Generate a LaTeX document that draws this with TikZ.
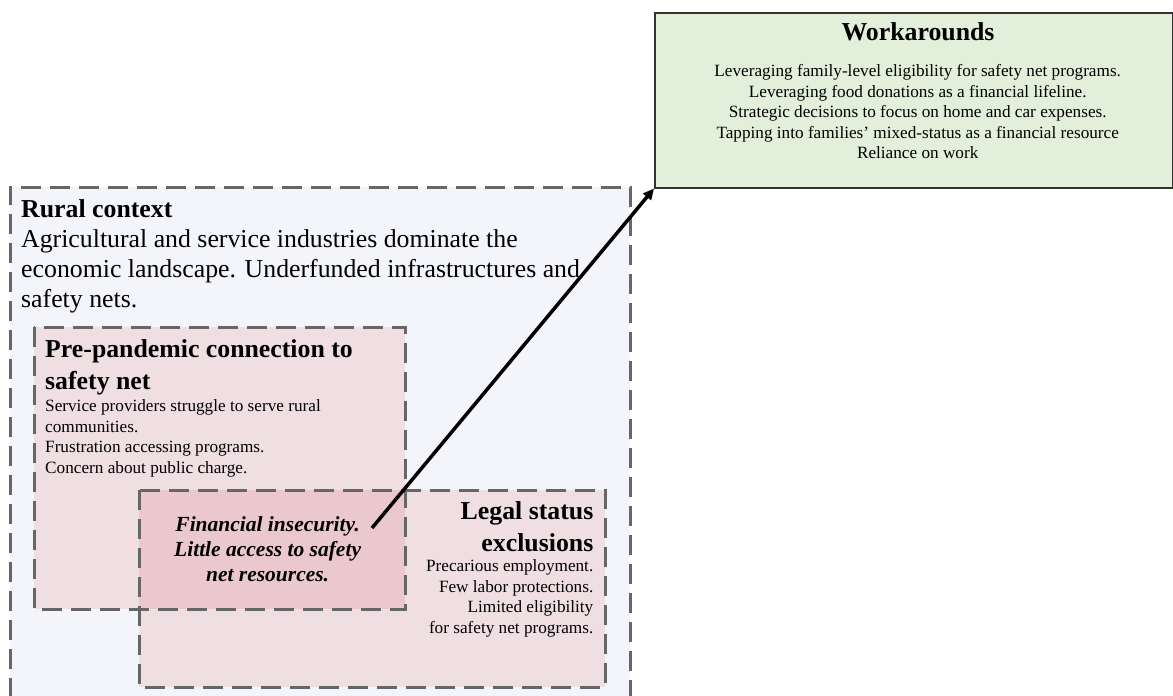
\documentclass[tikz,border=0pt]{standalone}
\usepackage{fontspec}
\setmainfont{Liberation Serif}
\usetikzlibrary{positioning,arrows.meta}

\definecolor{ruralfill}{HTML}{F4F5FA}
\definecolor{pinkfill}{HTML}{EFDEE2}
\definecolor{overlapfill}{HTML}{EBC8CE}
\definecolor{greenfill}{HTML}{E2EFDA}
\definecolor{dashgray}{HTML}{666666}
\definecolor{solidgray}{HTML}{333333}

\begin{document}
\begin{tikzpicture}[x=1pt,y=-1pt,
  dashbox/.style={draw=dashgray,line width=3pt,dash pattern=on 20pt off 9pt,
    anchor=north west,inner sep=0pt,outer sep=0pt},
  bigtext/.style={inner sep=0pt,font=\fontsize{25.8}{30}\selectfont},
  smalltext/.style={inner sep=0pt,font=\fontsize{17.2}{20.5}\selectfont},
  titletext/.style={inner sep=0pt,font=\fontsize{25.8}{31.5}\selectfont\bfseries}]

\useasboundingbox (0,0) rectangle (1173,696);
\clip (0,0) rectangle (1173,696);

% boxes
\node[dashbox,fill=ruralfill,minimum width=620pt,minimum height=560pt] (rural) at (10,187) {};
\node[inner sep=0pt,outer sep=0pt,anchor=north west,fill=pinkfill,minimum width=371pt,minimum height=282pt] (prepan) at (34,327) {};
\node[inner sep=0pt,outer sep=0pt,anchor=north west,fill=pinkfill,minimum width=466pt,minimum height=197pt] (legal) at (139,490) {};
\fill[overlapfill] (legal.north west) rectangle (prepan.south east);
\draw[dashbox] (prepan.north west) rectangle (prepan.south east);
\draw[dashbox] (legal.north west) rectangle (legal.south east);

\node[draw=solidgray,line width=1.5pt,fill=greenfill,anchor=north west,inner sep=0pt,
  minimum width=518pt,minimum height=175pt] (work) at (654,12) {};

% rural context (base = last line)
\node[bigtext,anchor=base west,align=left] (ruraltext) at (21,307.3)
  {\textbf{Rural context}\\
   Agricultural and service industries dominate the\\
   economic landscape. Underfunded infrastructures and\\
   safety nets.};

% pre-pandemic
\node[titletext,anchor=base west,align=left] (pretitle) at (45,389)
  {Pre-pandemic connection to\\safety net};
\node[smalltext,anchor=base west,align=left] (prebody) at (45,473.2)
  {Service providers struggle to serve rural\\
   communities.\\
   Frustration accessing programs.\\
   Concern about public charge.};

% legal status
\node[titletext,anchor=base east,align=right] (legaltitle) at (593.5,551)
  {Legal status\\exclusions};
\node[smalltext,anchor=base east,align=right] (legalbody) at (593.5,633.2)
  {Precarious employment.\\
   Few labor protections.\\
   Limited eligibility\\
   for safety net programs.};

% overlap
\node[inner sep=0pt,align=center,font=\fontsize{21.5}{25}\selectfont\bfseries\itshape,
  anchor=base] (fin) at (267.6,581.7)
  {Financial insecurity.\\Little access to safety\\net resources.};

% workarounds
\node[titletext,anchor=base] (worktitle) at (918,40) {Workarounds};
\node[smalltext,align=center,anchor=base] (workbody) at (917.7,158.7)
  {Leveraging family-level eligibility for safety net programs.\\
   Leveraging food donations as a financial lifeline.\\
   Strategic decisions to focus on home and car expenses.\\
   Tapping into families’ mixed-status as a financial resource\\
   Reliance on work};

% arrow
\coordinate (arrowstart) at (372,528);
\draw[line width=3.5pt,-{Triangle[length=11pt,width=10pt]}] (arrowstart) -- (work.south west);

\end{tikzpicture}
\end{document}
